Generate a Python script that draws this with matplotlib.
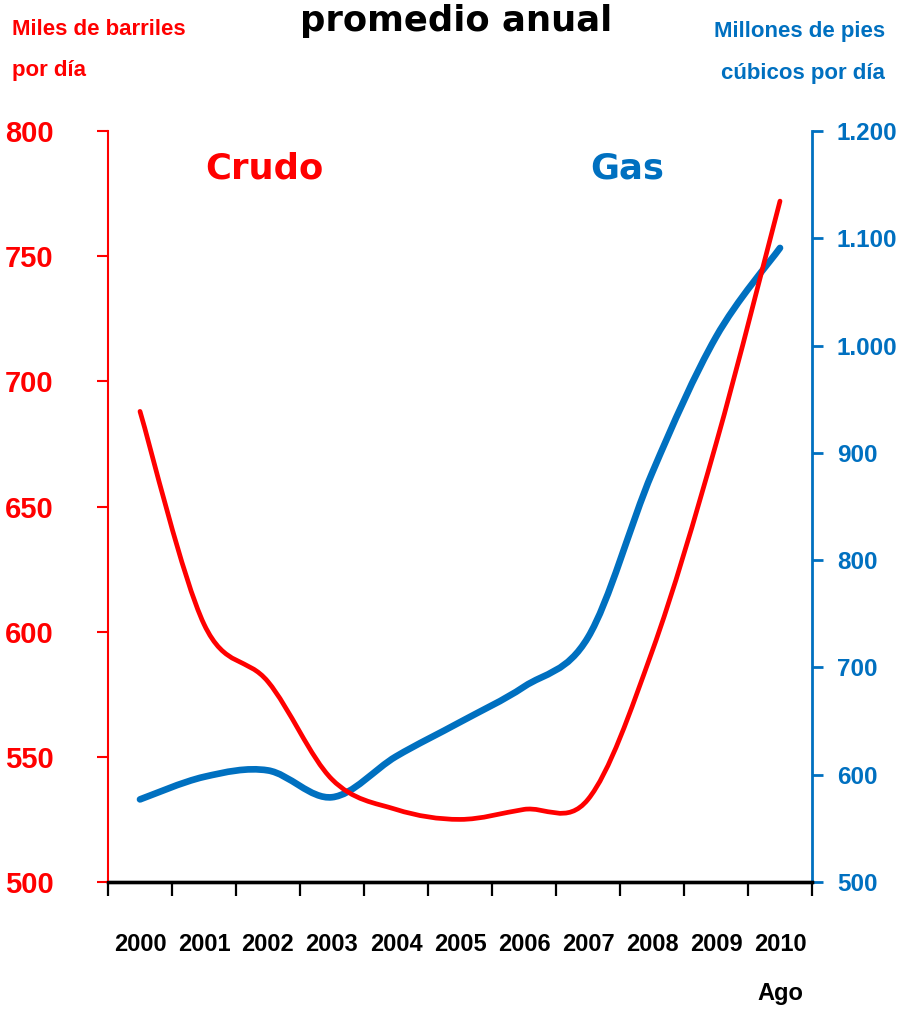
import matplotlib
matplotlib.use("Agg")
import matplotlib.pyplot as plt
from matplotlib.path import Path
from matplotlib.patches import PathPatch
from matplotlib.ticker import FixedLocator, MultipleLocator, FuncFormatter
import numpy as np

# Datos (promedio anual)
years = ["2000", "2001", "2002", "2003", "2004", "2005", "2006", "2007", "2008", "2009", "2010\nAgo"]
crudo = [688, 603, 580, 541, 529, 525, 529, 533, 592, 675, 772]      # miles de barriles por dia
gas = [577, 598, 604, 579, 617, 649, 682, 728, 881, 1008, 1091]      # millones de pies cubicos por dia

RED = "#FF0000"
BLUE = "#0070C0"
NARROW = ["Liberation Sans", "DejaVu Sans"]
BOLD = ["DejaVu Sans"]


# Curva suavizada tipo Excel (Bezier cubica, tension 1/6)
def smooth_path(xs, ys):
    pts = np.column_stack([xs, ys]).astype(float)
    n = len(pts)
    verts = [pts[0]]
    codes = [Path.MOVETO]
    for i in range(n - 1):
        p_prev = pts[max(i - 1, 0)]
        p0 = pts[i]
        p1 = pts[i + 1]
        p_next = pts[min(i + 2, n - 1)]
        c1 = p0 + (p1 - p_prev) / 6.0
        c2 = p1 - (p_next - p0) / 6.0
        verts += [c1, c2, p1]
        codes += [Path.CURVE4] * 3
    return Path(verts, codes)


fig = plt.figure(figsize=(9.01, 10.10), dpi=100)
ax = fig.add_axes([108 / 901, 1 - 882 / 1010, (812 - 108) / 901, (882 - 131) / 1010])
ax2 = ax.twinx()

x = np.arange(len(years))

# Crudo (eje izquierdo)
ax.add_patch(PathPatch(smooth_path(x, crudo), facecolor="none", edgecolor=RED,
                       lw=3.4, capstyle="round", joinstyle="round"))
# Gas (eje derecho)
ax2.add_patch(PathPatch(smooth_path(x, gas), facecolor="none", edgecolor=BLUE,
                        lw=4.8, capstyle="round", joinstyle="round"))

ax.set_zorder(ax2.get_zorder() + 1)
ax.patch.set_visible(False)

ax.set_xlim(-0.5, len(years) - 0.5)
ax.set_ylim(500, 800)
ax2.set_ylim(500, 1200)

# Eje X: marcas entre categorias, etiquetas centradas
ax.xaxis.set_major_locator(FixedLocator(np.arange(-0.5, len(years), 1.0)))
ax.xaxis.set_minor_locator(FixedLocator(x))
ax.set_xticklabels([], minor=False)
ax.set_xticklabels(years, minor=True, fontsize=17, fontweight="bold", family=NARROW,
                   linespacing=2.4)
ax.tick_params(axis="x", which="major", direction="out", length=10, width=1.6, color="black")
ax.tick_params(axis="x", which="minor", length=0, pad=37)

# Eje Y izquierdo
ax.yaxis.set_major_locator(MultipleLocator(50))
ax.tick_params(axis="y", direction="out", length=8, width=1.5, color=RED, pad=31,
               labelcolor=RED, labelsize=21)
for lab in ax.get_yticklabels():
    lab.set_fontweight("bold")
    lab.set_family(NARROW)

# Eje Y derecho
ax2.yaxis.set_major_locator(MultipleLocator(100))
ax2.yaxis.set_major_formatter(FuncFormatter(lambda v, p: "{:,.0f}".format(v).replace(",", ".")))
ax2.tick_params(axis="y", direction="out", length=8, width=2, color=BLUE, pad=10,
                labelcolor=BLUE, labelsize=17.5)
for lab in ax2.get_yticklabels():
    lab.set_fontweight("bold")
    lab.set_family(NARROW)

for a in (ax, ax2):
    a.spines["top"].set_visible(False)
    a.spines["bottom"].set_color("black")
    a.spines["bottom"].set_linewidth(2.4)
ax.spines["left"].set_color(RED)
ax.spines["left"].set_linewidth(1.5)
ax.spines["right"].set_visible(False)
ax2.spines["left"].set_visible(False)
ax2.spines["right"].set_color(BLUE)
ax2.spines["right"].set_linewidth(2)

# Textos
fig.text(456 / 901, 1 - 31 / 1010, "promedio anual", ha="center", va="baseline",
         fontsize=25.5, fontweight="bold", family=BOLD, color="black")

head = dict(fontsize=16, fontweight="bold", family=NARROW, va="baseline")
fig.text(12 / 901, 1 - 35 / 1010, "Miles de barriles", ha="left", color=RED, **head)
fig.text(12 / 901, 1 - 76 / 1010, "por día", ha="left", color=RED, **head)
fig.text(885 / 901, 1 - 37 / 1010, "Millones de pies", ha="right", color=BLUE, **head)
fig.text(885 / 901, 1 - 79 / 1010, "cúbicos por día", ha="right", color=BLUE, **head)

ax.text(1.94, 785, "Crudo", ha="center", va="center", fontsize=25.5, fontweight="bold",
        family=BOLD, color=RED)
ax.text(7.61, 785, "Gas", ha="center", va="center", fontsize=25.5, fontweight="bold",
        family=BOLD, color=BLUE)

fig.savefig("out.png", dpi=100)
